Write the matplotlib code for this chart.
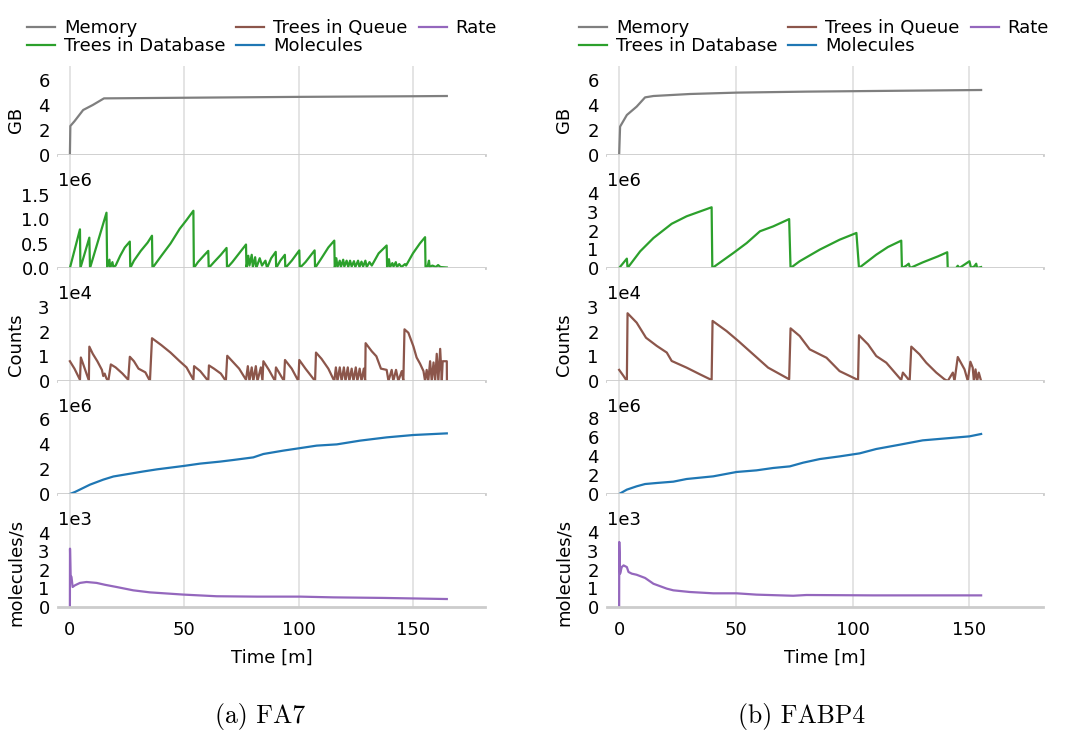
import numpy as np
import matplotlib
matplotlib.use('Agg')
import matplotlib.pyplot as plt
from matplotlib.lines import Line2D

plt.rcParams['font.family'] = ['DejaVu Sans']
plt.rcParams['font.size'] = 13

# ---------------- FA7 (left column) ----------------
fa7_mem_t = [0, 0.2, 2, 5.8, 10, 14.9, 50, 100, 150, 164.8]
fa7_mem = [0, 2.32, 2.7, 3.6, 4.0, 4.53, 4.58, 4.65, 4.7, 4.72]  # GB

fa7_db_t = [0, 4.4, 4.6, 8.5, 8.8, 16.0, 16.3, 17.3, 17.6, 18.6, 19.0, 20.0,
            22, 24, 26.2, 26.4, 28, 31, 34, 35.9, 36.1, 40, 44, 48, 51, 54, 54.2,
            56, 58.5, 60.5, 60.7, 63, 66, 68.5, 68.7, 71, 74, 77, 77.2,
            78, 78.5, 79.5, 80, 81, 81.5, 83, 84, 85.5, 86.2, 88, 90, 90.2,
            92, 94, 94.2, 97, 100.3, 100.5, 103, 107, 107.2, 110, 113, 115.6, 115.8,
            116.5, 117, 118, 118.5, 119.5, 120, 121, 121.7, 122.5, 123.2, 124.2, 124.8,
            126, 126.6, 127.5, 128.2, 129.2, 129.8, 131, 132, 135, 138.5, 138.7,
            139.5, 140, 141, 141.5, 142.5, 143, 144, 145, 146.5, 147,
            150, 153, 155.3, 155.5, 156.5, 157, 157.3, 158.5, 160, 161, 162, 164.8]
fa7_db = [0, 0.79, 0, 0.62, 0, 1.13, 0, 0.17, 0.0, 0.12, 0.02, 0.05,
          0.25, 0.42, 0.54, 0, 0.15, 0.35, 0.52, 0.66, 0, 0.25, 0.5, 0.8, 0.98, 1.17, 0,
          0.12, 0.25, 0.35, 0, 0.12, 0.27, 0.41, 0, 0.12, 0.3, 0.48, 0,
          0.25, 0.05, 0.27, 0.02, 0.22, 0, 0.2, 0.05, 0.15, 0, 0.2, 0.33, 0,
          0.15, 0.27, 0, 0.15, 0.36, 0, 0.12, 0.36, 0, 0.2, 0.42, 0.56, 0,
          0.2, 0.02, 0.15, 0.02, 0.17, 0.03, 0.15, 0.02, 0.15, 0.03, 0.14, 0.02,
          0.15, 0.02, 0.13, 0.03, 0.15, 0.02, 0.12, 0.05, 0.3, 0.46, 0,
          0.18, 0.02, 0.1, 0.03, 0.12, 0.02, 0.08, 0.02, 0.08, 0.05,
          0.3, 0.5, 0.63, 0, 0.05, 0.15, 0.02, 0.05, 0.02, 0.06, 0.02, 0.01]  # 1e6

fa7_q_t = [0, 2, 4.4, 4.8, 6.5, 8.3, 8.5, 10, 12, 14, 14.6, 15.2, 16, 16.8, 17.9,
           20, 23, 25.5, 26.2, 28, 30, 33, 35, 35.9, 40, 44, 48, 51, 54, 54.3, 57,
           60.5, 60.8, 63, 66, 68.2, 68.8, 71, 74, 77, 77.8, 78.5, 79.5, 80.2, 81.3,
           82, 83.5, 84.2, 84.6, 87, 89.7, 90.1, 93.6, 94.05, 97, 99.9, 100.3, 103,
           107.2, 107.6, 110, 113, 115.6, 116.3, 117, 118, 118.8, 119.8, 120.5, 121.5,
           122.2, 123.2, 124, 125, 125.7, 126.7, 127.5, 128.5, 129.1, 129.3, 132, 134,
           136, 138.5, 139.3, 140.7, 141.4, 142.6, 143.6, 145.1, 145.8, 146.3, 148,
           150.2, 151.6, 153.1, 154.6, 155.3, 156, 156.7, 157.5, 158.2, 159, 159.7,
           160.4, 161.1, 161.9, 162.6, 163, 164.8, 164.85]
fa7_q = [0.8, 0.5, 0.05, 0.95, 0.5, 0.02, 1.39, 1.1, 0.8, 0.45, 0.2, 0.3, 0.1, 0.0, 0.67,
         0.55, 0.3, 0.05, 0.98, 0.8, 0.5, 0.35, 0.0, 1.73, 1.45, 1.15, 0.8, 0.55, 0.05, 0.6, 0.4,
         0.0, 0.63, 0.5, 0.3, 0.0, 1.02, 0.8, 0.5, 0.05, 0.6, 0.0, 0.55, 0.0, 0.6,
         0.0, 0.55, 0.0, 0.8, 0.45, 0.0, 0.55, 0.0, 0.85, 0.5, 0.0, 0.85, 0.5,
         0.0, 1.15, 0.9, 0.5, 0.0, 0.55, 0.0, 0.55, 0.0, 0.55, 0, 0.55,
         0, 0.5, 0, 0.55, 0, 0.5, 0, 0.5, 0, 1.53, 1.2, 1.0,
         0.5, 0.45, 0.0, 0.45, 0.0, 0.45, 0.0, 0.4, 0.0, 2.09, 1.95,
         1.4, 0.95, 0.7, 0.4, 0.0, 0.45, 0.0, 0.8, 0.0, 0.75, 0.0,
         1.1, 0.0, 1.3, 0.0, 0.8, 0.8, 0.0]  # 1e4

fa7_mol_t = [0, 2.2, 8.8, 14.6, 19, 32, 38, 49.6, 56.9, 65.6, 71.4, 80.2, 84.6,
             93.3, 99.9, 107.9, 116.7, 126.9, 138.5, 150.2, 164.8]
fa7_mol = [0, 0.16, 0.75, 1.15, 1.4, 1.8, 1.97, 2.24, 2.43, 2.59, 2.72, 2.93, 3.2,
           3.47, 3.65, 3.87, 3.97, 4.27, 4.53, 4.72, 4.85]  # 1e6

fa7_rate_t = [0, 0.05, 0.3, 0.7, 1.2, 2.2, 4.4, 7.3, 11.7, 15.3, 20.4, 27.7, 35,
              49.6, 64.2, 81.7, 100.6, 115.2, 137, 164.8]
fa7_rate = [0, 3.15, 1.71, 1.62, 1.08, 1.17, 1.3, 1.35, 1.3, 1.2, 1.08, 0.9, 0.79,
            0.67, 0.58, 0.56, 0.56, 0.52, 0.49, 0.43]  # 1e3

# ---------------- FABP4 (right column) ----------------
fabp4_mem_t = [0, 0.4, 3.3, 7.5, 11.1, 14.7, 30.3, 50.3, 80.2, 108.7, 155]
fabp4_mem = [0, 2.27, 3.2, 3.87, 4.61, 4.72, 4.88, 4.99, 5.07, 5.12, 5.2]

fabp4_db_t = [0, 3.3, 3.6, 9, 14.7, 22.5, 28.9, 39.6, 39.9, 48.9, 54.6, 60.3, 65.95,
              72.8, 73.4, 77.3, 85.9, 94.4, 101.6, 102.7, 110.1, 115.1, 120.8, 121.1,
              122.9, 124, 124.6, 130, 136.5, 140.5, 140.7, 144.3, 145, 145.7, 150,
              150.7, 152.1, 152.9, 153.3, 155]
fabp4_db = [0, 0.5, 0, 0.89, 1.6, 2.36, 2.76, 3.24, 0, 0.8, 1.33, 1.96, 2.22,
            2.61, 0, 0.36, 0.98, 1.51, 1.87, 0, 0.71, 1.12, 1.46, 0,
            0.12, 0.23, 0, 0.3, 0.62, 0.84, 0, 0, 0.12, 0, 0.36,
            0, 0.09, 0.23, 0, 0.05]  # 1e6

fabp4_q_t = [0, 1.9, 3.3, 3.6, 7.5, 11.5, 16.1, 20.4, 22.5, 28.9, 34.6, 39.6, 40, 46,
             51, 57.4, 63.8, 72.8, 73.4, 77.3, 81.6, 88.8, 94.4, 102.3, 102.7, 106.6,
             110.1, 114.4, 120.8, 121.5, 122.9, 124.4, 125.1, 128.6, 131.5, 135.8,
             139.3, 140.7, 142.9, 143.6, 145, 147.9, 149.3, 150.4, 151.4, 151.9, 152.6,
             153.3, 154, 155]
fabp4_q = [0.45, 0.2, 0, 2.74, 2.36, 1.75, 1.42, 1.15, 0.81, 0.54, 0.27, 0.04, 2.43, 2.02,
           1.62, 1.08, 0.54, 0.07, 2.13, 1.82, 1.28, 0.94, 0.4, 0.04, 1.85, 1.48,
           1.01, 0.74, 0.04, 0.34, 0.18, 0, 1.39, 1.08, 0.74, 0.34,
           0.07, 0.0, 0.34, 0, 0.97, 0.47, 0, 0.78, 0.54, 0, 0.47,
           0, 0.34, 0]  # 1e4

fabp4_mol_t = [0, 3.3, 7.5, 11.1, 16.1, 23.2, 28.9, 40.3, 50.3, 58.8, 65.95, 73.1,
               78.8, 85.9, 94.4, 103, 110.1, 120.1, 130, 141.5, 150, 155]
fabp4_mol = [0, 0.46, 0.81, 1.05, 1.16, 1.3, 1.58, 1.86, 2.32, 2.49, 2.74, 2.91,
             3.3, 3.68, 3.96, 4.28, 4.74, 5.19, 5.65, 5.89, 6.07, 6.32]  # 1e6

fabp4_rate_t = [0, 0.05, 0.4, 1.1, 1.9, 3.3, 4.0, 5.4, 7.5, 11.1, 14.7, 20.4, 23.2,
                30.3, 40.3, 50.3, 58.8, 74.5, 80.2, 108.7, 155]
fabp4_rate = [0, 3.47, 1.78, 2.13, 2.22, 2.13, 1.87, 1.78, 1.72, 1.55, 1.24, 0.98, 0.89,
              0.8, 0.73, 0.73, 0.66, 0.6, 0.64, 0.62, 0.62]  # 1e3

series_names = ['Memory', 'Trees in Database', 'Trees in Queue', 'Molecules', 'Rate']
colors = ['#7f7f7f', '#2ca02c', '#8c564b', '#1f77b4', '#9467bd']
ylabels = ['GB', '', 'Counts', '', 'molecules/s']
offsets = ['', '1e6', '1e4', '1e6', '1e3']
captions = ['(a) FA7', '(b) FABP4']

columns = [
    dict(data=[(fa7_mem_t, fa7_mem), (fa7_db_t, fa7_db), (fa7_q_t, fa7_q),
               (fa7_mol_t, fa7_mol), (fa7_rate_t, fa7_rate)],
         yticks=[[0, 2, 4, 6], [0, 0.5, 1.0, 1.5], [0, 1, 2, 3], [0, 2, 4, 6], [0, 1, 2, 3, 4]],
         ytop=[7.12, 2.31, 4.57, 9.04, 6.1],
         ticklabels=[None, ['0.0', '0.5', '1.0', '1.5'], None, None, None],
         x0=58, w=427, legend_x=262, caption_x=260),
    dict(data=[(fabp4_mem_t, fabp4_mem), (fabp4_db_t, fabp4_db), (fabp4_q_t, fabp4_q),
               (fabp4_mol_t, fabp4_mol), (fabp4_rate_t, fabp4_rate)],
         yticks=[[0, 2, 4, 6], [0, 1, 2, 3, 4], [0, 1, 2, 3], [0, 2, 4, 6, 8], [0, 1, 2, 3, 4]],
         ytop=[7.12, 6.03, 4.57, 11.9, 6.03],
         ticklabels=[None, None, None, None, None],
         x0=607, w=436, legend_x=814, caption_x=802),
]

W, H = 1068, 734
fig = plt.figure(figsize=(W / 100, H / 100), dpi=100)

row_edges = [66, 155, 268, 381, 494, 607]  # pixel rows (top to bottom)

for k, col in enumerate(columns):
    for i in range(5):
        top, bot = row_edges[i], row_edges[i + 1]
        ax = fig.add_axes([col['x0'] / W, 1 - bot / H, col['w'] / W, (bot - top) / H])
        t, v = col['data'][i]
        ax.plot(t, v, color=colors[i], lw=1.6)
        ax.set_xlim(-5.2, 181.5)
        ax.set_ylim(0, col['ytop'][i])
        ax.set_yticks(col['yticks'][i])
        if col['ticklabels'][i] is not None:
            ax.set_yticklabels(col['ticklabels'][i])
        ax.set_xticks([0, 50, 100, 150])
        ax.grid(axis='x', color='#dcdcdc', lw=1.1)
        ax.set_axisbelow(True)
        for s in ['left', 'top', 'right']:
            ax.spines[s].set_visible(False)
        ax.spines['bottom'].set_color('#cccccc')
        ax.spines['bottom'].set_linewidth(2)
        ax.tick_params(axis='y', length=0, pad=6)
        ax.tick_params(axis='x', length=0, pad=10)
        if i < 4:
            ax.tick_params(axis='x', labelbottom=False)
        else:
            ax.set_xlabel('Time [m]', labelpad=7)
        if offsets[i]:
            ax.text(0.0, 0.77, offsets[i], transform=ax.transAxes, ha='left', va='center')
        if ylabels[i]:
            ax.set_ylabel(ylabels[i])
            yc = {0: 0.39, 2: 0.32, 4: 0.31}[i]
            ax.yaxis.set_label_coords(-0.078, yc)

    handles = [Line2D([], [], color=c, lw=1.6) for c in colors]
    fig.legend(handles, series_names, ncol=3, loc='center',
               bbox_to_anchor=(col['legend_x'] / W, 1 - 37 / H), frameon=False,
               handlelength=1.55, handletextpad=0.5, columnspacing=0.6,
               labelspacing=0.0, borderpad=0.2)
    fig.text(col['caption_x'] / W, 1 - 717 / H, captions[k],
             family='cmr10', fontsize=18.5, ha='center', va='center')

fig.savefig('out.png', dpi=100)
